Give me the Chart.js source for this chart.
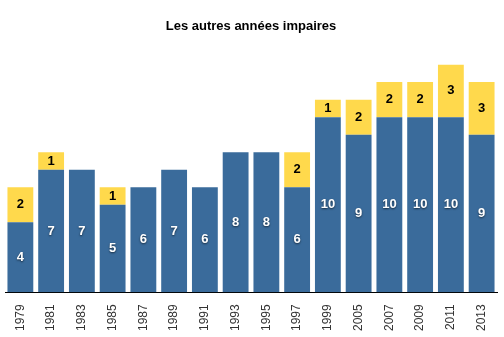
<!DOCTYPE html>
<html>
<head>
<meta charset="utf-8">
<script src="https://cdn.jsdelivr.net/npm/chart.js@4"></script>
<style>
  html, body { margin: 0; padding: 0; background: #fff; }
  #wrap { width: 504px; height: 337px; }
</style>
</head>
<body>
<div id="wrap"><canvas id="chart" width="504" height="337"></canvas></div>
<script>
const years = ['1979', '1981', '1983', '1985', '1987', '1989', '1991', '1993', '1995', '1997', '1999', '2005', '2007', '2009', '2011', '2013'];
const blueValues = [4, 7, 7, 5, 6, 7, 6, 8, 8, 6, 10, 9, 10, 10, 10, 9];
const yellowValues = [2, 1, 0, 1, 0, 0, 0, 0, 0, 2, 1, 2, 2, 2, 3, 3];

// étiquettes au centre de chaque segment
const segmentLabels = {
    id: 'segmentLabels',
    afterDatasetsDraw(chart) {
        const ctx = chart.ctx;
        chart.data.datasets.forEach((ds, i) => {
            const meta = chart.getDatasetMeta(i);
            meta.data.forEach((bar, j) => {
                const v = ds.data[j];
                if (!v) return;
                const mid = (bar.y + bar.base) / 2;
                ctx.save();
                ctx.font = 'bold 13px "Liberation Sans", Arial, sans-serif';
                ctx.textAlign = 'center';
                ctx.textBaseline = 'middle';
                if (i === 0) {
                    ctx.fillStyle = '#ffffff';
                    ctx.shadowColor = 'rgba(0,0,0,0.6)';
                    ctx.shadowBlur = 2;
                    ctx.shadowOffsetY = 1;
                } else {
                    ctx.fillStyle = '#000000';
                }
                ctx.fillText(v, bar.x, mid);
                ctx.restore();
            });
        });
    }
};

new Chart(document.getElementById('chart').getContext('2d'), {
    type: 'bar',
    data: {
        labels: years,
        datasets: [
            {
                data: blueValues,
                backgroundColor: '#3a6b9b',
                barPercentage: 0.84,
                categoryPercentage: 1
            },
            {
                data: yellowValues,
                backgroundColor: '#ffd94c',
                barPercentage: 0.84,
                categoryPercentage: 1
            }
        ]
    },
    options: {
        responsive: false,
        animation: false,
        layout: { padding: { top: 19, left: 5, right: 7, bottom: 2 } },
        scales: {
            x: {
                stacked: true,
                grid: { display: false },
                border: { display: true, color: '#000', width: 1 },
                ticks: {
                    minRotation: 90,
                    maxRotation: 90,
                    color: '#333',
                    padding: 4,
                    font: { size: 12, family: '"Liberation Sans", Arial, sans-serif' }
                }
            },
            y: {
                stacked: true,
                display: false,
                min: 0,
                max: 13
            }
        },
        plugins: {
            legend: { display: false },
            tooltip: { enabled: false },
            title: {
                display: true,
                text: 'Les autres années impaires',
                color: '#000',
                font: { size: 13, weight: 'bold', family: '"Liberation Sans", Arial, sans-serif' },
                padding: { top: 0, bottom: 30 }
            }
        }
    },
    plugins: [segmentLabels]
});
</script>
</body>
</html>
